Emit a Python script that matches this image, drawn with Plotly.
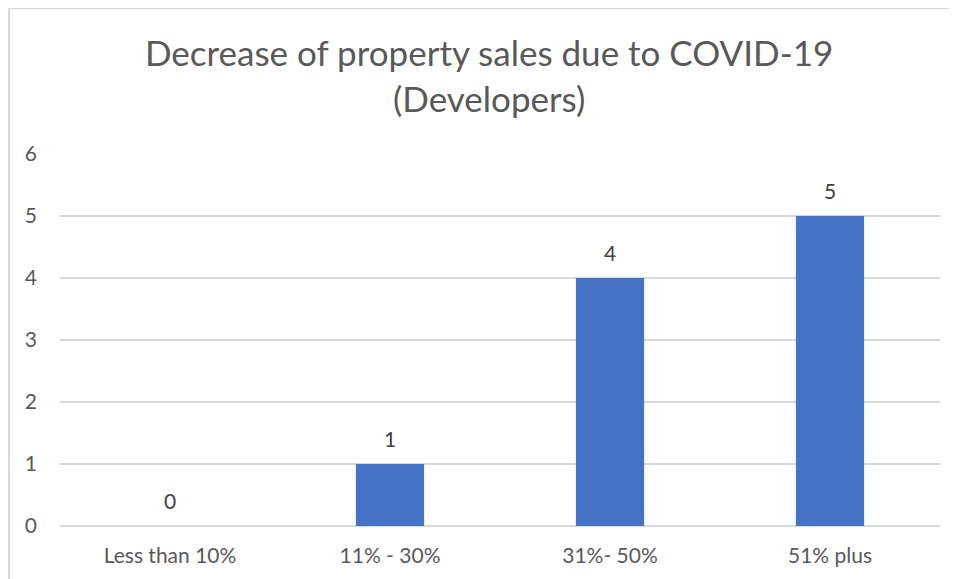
import plotly.graph_objects as go

categories = ["Less than 10%", "11% - 30%", "31%- 50%", "51% plus"]
counts = [0, 1, 4, 5]

title = "Decrease of property sales due to COVID-19<br>(Developers)"
font_name = "Lato"
grey = "#595959"

fig = go.Figure()
fig.add_bar(
    x=categories,
    y=counts,
    marker=dict(color="#4472c4", line=dict(width=0)),
    width=0.31,
    hoverinfo="x+y",
)

# Data labels sit well above each bar, like in Excel.
for cat, val in zip(categories, counts):
    fig.add_annotation(
        x=cat, y=val, text=str(val), showarrow=False,
        yshift=26, font=dict(size=21, color="#404040", family=font_name),
    )

# Chart border (left and top edges visible in the source).
fig.add_shape(
    type="line", xref="paper", yref="paper",
    x0=-0.058, x1=-0.058, y0=1.392, y1=-0.3,
    line=dict(color="#d9d9d9", width=2),
)
fig.add_shape(
    type="line", xref="paper", yref="paper",
    x0=-0.058, x1=1.05, y0=1.392, y1=1.392,
    line=dict(color="#d9d9d9", width=2),
)

# The page adds an 8px body margin, so the figure is a bit smaller.
fig.update_layout(
    width=949, height=571,
    margin=dict(l=52, r=17, t=146, b=47),
    paper_bgcolor="white",
    plot_bgcolor="white",
    showlegend=False,
    font=dict(family=font_name, color=grey, size=21),
    title=dict(
        text=title, x=0.507, xanchor="center", y=0.898, yanchor="middle",
        font=dict(size=35, color=grey, family=font_name),
    ),
)
fig.update_xaxes(
    showgrid=False, showline=False, ticks="",
    tickfont=dict(size=21, color=grey), ticklabelstandoff=15,
)
fig.update_yaxes(
    range=[0, 6], dtick=1,
    showgrid=True, gridcolor="#d9d9d9", gridwidth=1.5,
    zeroline=True, zerolinecolor="#d9d9d9", zerolinewidth=1.5,
    showline=False, ticks="",
    tickfont=dict(size=21, color=grey), ticklabelstandoff=22,
)

fig.write_html("out.html")
